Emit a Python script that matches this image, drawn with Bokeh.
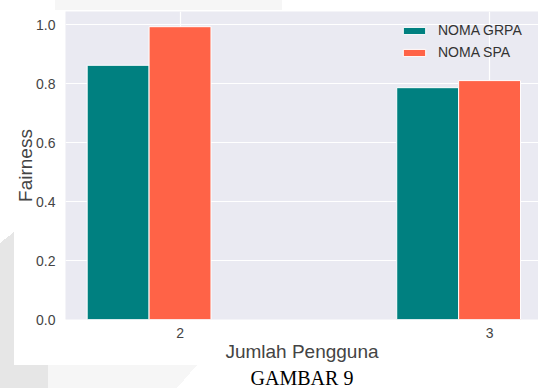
from bokeh.plotting import figure
from bokeh.models import (ColumnDataSource, Range1d, FixedTicker, Legend, LegendItem,
                          Title, PrintfTickFormatter)
from bokeh.transform import dodge
from bokeh.embed import file_html
from bokeh.resources import INLINE

# ---- data ----
users = [2, 3]
grpa = [0.863, 0.787]
spa = [0.994, 0.811]
series = ["NOMA GRPA", "NOMA SPA"]
x_label = "Jumlah Pengguna"
y_label = "Fairness"
caption = "GAMBAR 9"
y_ticks = [0.0, 0.2, 0.4, 0.6, 0.8, 1.0]

src = ColumnDataSource(dict(x=users, grpa=grpa, spa=spa))

# page decoration (scan watermark shapes around the figure), drawn as CSS background
g1, g2 = "#e6e6e6", "#f6f6f6"
def solid(c):
    return f"linear-gradient({c},{c})"
bg = ", ".join([
    f"{solid('white')} 14px 10px / 524px 355px no-repeat",
    f"{solid(g1)} 0px 243px / 14px 145px no-repeat",
    f"linear-gradient(to bottom right, transparent 50%, {g1} 50%) 0px 232px / 14px 11px no-repeat",
    f"{solid(g1)} 0px 365px / 48px 23px no-repeat",
    f"{solid(g2)} 48px 365px / 129px 23px no-repeat",
    f"linear-gradient(to bottom right, {g2} 50%, transparent 50%) 177px 365px / 20px 23px no-repeat",
    f"{solid(g2)} 55px 0px / 227px 10px no-repeat",
    "white",
])

p = figure(width=538, height=388, output_backend="svg", toolbar_location=None,
           x_range=Range1d(1.63, 3.158), y_range=Range1d(0, 1.0456),
           min_border_left=65, min_border_right=0, min_border_top=11,
           min_border_bottom=66, styles={"background": bg})

p.background_fill_color = "#EAEAF2"
p.border_fill_alpha = 0
p.outline_line_color = None

r1 = p.vbar(x=dodge("x", -0.2, range=p.x_range), top="grpa", width=0.2, source=src,
            fill_color="#008080", line_color="white", line_width=1)
r2 = p.vbar(x="x", top="spa", width=0.2, source=src,
            fill_color="#FF6347", line_color="white", line_width=1)

font = "Liberation Sans"
p.xaxis.ticker = FixedTicker(ticks=users)
p.yaxis.ticker = FixedTicker(ticks=y_ticks)
p.yaxis.formatter = PrintfTickFormatter(format="%.1f")
for ax in (p.xaxis, p.yaxis):
    ax.axis_line_color = None
    ax.major_tick_line_color = None
    ax.minor_tick_line_color = None
    ax.major_label_text_font = font
    ax.major_label_text_font_size = "14px"
    ax.major_label_text_color = "#444444"
    ax.axis_label_text_font = font
    ax.axis_label_text_font_size = "19px"
    ax.axis_label_text_font_style = "normal"
    ax.axis_label_text_color = "#444444"
p.xaxis.axis_label = x_label
p.yaxis.axis_label = y_label
p.xaxis.major_label_standoff = 2
p.xaxis.axis_label_standoff = 0
p.yaxis.major_label_standoff = 4
p.yaxis.axis_label_standoff = -3

p.grid.grid_line_color = "white"
p.grid.grid_line_width = 1.2

legend = Legend(items=[LegendItem(label=series[0], renderers=[r1]),
                       LegendItem(label=series[1], renderers=[r2])],
                location=(335, 259), orientation="vertical")
legend.background_fill_alpha = 0
legend.border_line_color = None
legend.padding = 0
legend.margin = 0
legend.spacing = 6
legend.glyph_width = 28
legend.glyph_height = 9
legend.label_height = 9
legend.label_standoff = 10
legend.label_text_font = font
legend.label_text_font_size = "14px"
legend.label_text_color = "#333333"
p.add_layout(legend)

p.add_layout(Title(text=caption, align="center", standoff=0,
                   text_font="Liberation Serif", text_font_size="20px",
                   text_font_style="normal", text_color="black"), "below")

open("out.html", "w").write(file_html(p, INLINE))
